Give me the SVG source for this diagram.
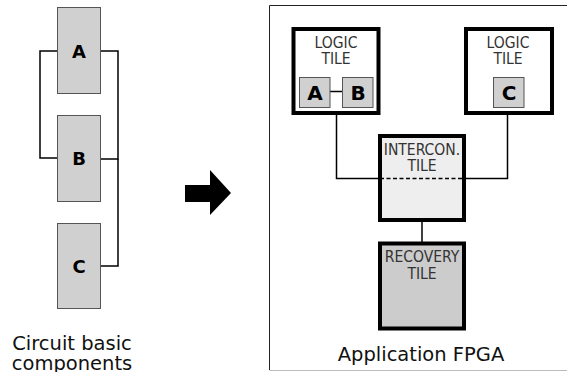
<svg xmlns="http://www.w3.org/2000/svg" width="567" height="372" viewBox="0 0 567 372">
  <style>
    .comp { fill: #d0d0d0; stroke: #555; stroke-width: 1; }
    .wire { fill: none; stroke: #000; stroke-width: 1.5; }
    .dash { fill: none; stroke: #000; stroke-width: 1.5; stroke-dasharray: 4,2.5; }
    .tile { stroke: #000; stroke-width: 4; }
    .big { font-family: "DejaVu Sans", sans-serif; font-weight: bold; font-size: 18px; fill: #000; text-anchor: middle; }
    .inner { font-size: 20px; }
    .tlabel { font-family: "DejaVu Sans Condensed", "DejaVu Sans", sans-serif; font-stretch: condensed; font-size: 15.5px; fill: #333; text-anchor: middle; }
    .caption { font-family: "DejaVu Sans", sans-serif; font-size: 19.5px; fill: #111; text-anchor: middle; }
  </style>
  <rect width="567" height="372" fill="#fff"/>

  <!-- left side: the basic circuit components -->
  <g id="connectors-left">
    <path class="wire" d="M57,51 H40 V158 H57"/>
    <path class="wire" d="M101,51 H118 V159 H101"/>
    <path class="wire" d="M118,159 V266 H101" stroke-width="2"/>
  </g>
  <g id="comp-a">
    <rect class="comp" x="57.5" y="7.5" width="43" height="86"/>
    <text class="big" x="79" y="58">A</text>
  </g>
  <g id="comp-b">
    <rect class="comp" x="57.5" y="115.5" width="43" height="86"/>
    <text class="big" x="79" y="165">B</text>
  </g>
  <g id="comp-c">
    <rect class="comp" x="57.5" y="223.5" width="43" height="85"/>
    <text class="big" x="79" y="273">C</text>
  </g>
  <g id="caption-left">
    <text class="caption" x="72" y="350">Circuit basic</text>
    <text class="caption" x="72" y="370">components</text>
  </g>

  <!-- mapping arrow -->
  <g id="arrow">
    <polygon points="185,185 210,185 210,170 231,193 210,215 210,202 185,202" fill="#000"/>
  </g>

  <!-- right side: the application FPGA -->
  <g id="fpga-frame">
    <path d="M580,5.5 H269.5 V370" fill="none" stroke="#222" stroke-width="1"/>
    <path d="M269.5,370.5 H567" fill="none" stroke="#bbb" stroke-width="1"/>
    <text class="caption" x="421" y="361" font-size="21.5">Application FPGA</text>
  </g>

  <g id="connectors-right">
    <path class="wire" d="M336.5,115 V178.5 H378"/>
    <path class="wire" d="M507.5,115 V178.5 H466"/>
    <path class="wire" d="M422,222 V242"/>
  </g>

  <g id="logic-tile-1">
    <rect class="tile" x="293.5" y="29" width="85" height="84" fill="#fff"/>
    <text class="tlabel" x="336" y="47.5">LOGIC</text>
    <text class="tlabel" x="336" y="63.5">TILE</text>
    <path class="wire" d="M330,91.5 H342"/>
    <rect class="comp" x="299.5" y="77.5" width="30.5" height="30"/>
    <text class="big inner" x="315" y="100">A</text>
    <rect class="comp" x="342.5" y="77.5" width="30.5" height="30"/>
    <text class="big inner" x="358" y="100">B</text>
  </g>

  <g id="logic-tile-2">
    <rect class="tile" x="466" y="29" width="86" height="84" fill="#fff"/>
    <text class="tlabel" x="508" y="47.5">LOGIC</text>
    <text class="tlabel" x="508" y="63.5">TILE</text>
    <rect class="comp" x="493.5" y="77.5" width="30.5" height="30"/>
    <text class="big inner" x="509" y="100">C</text>
  </g>

  <g id="intercon-tile">
    <rect class="tile" x="380" y="136" width="84" height="84" fill="#eeeeee"/>
    <text class="tlabel" x="422" y="155">INTERCON.</text>
    <text class="tlabel" x="422" y="171">TILE</text>
    <path class="dash" d="M380,178.5 H464"/>
  </g>

  <g id="recovery-tile">
    <rect class="tile" x="380" y="243.5" width="84" height="85" fill="#cccccc"/>
    <text class="tlabel" x="422" y="262">RECOVERY</text>
    <text class="tlabel" x="422" y="279">TILE</text>
  </g>
</svg>
